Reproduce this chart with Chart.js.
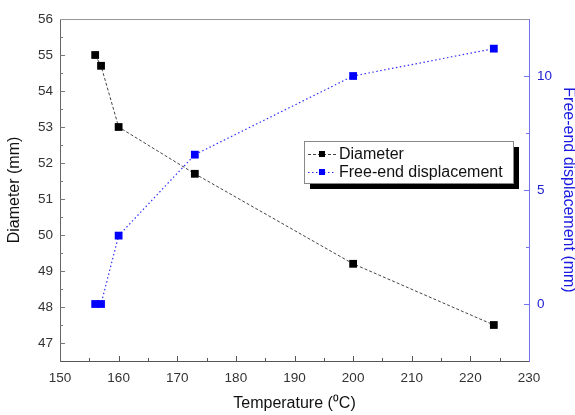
<!DOCTYPE html>
<html>
<head>
<meta charset="utf-8">
<script src="https://cdn.jsdelivr.net/npm/chart.js@4/dist/chart.umd.min.js"></script>
<style>
  html, body { margin: 0; padding: 0; background: #fff; }
  #chart { display: block; }
</style>
</head>
<body>
<canvas id="chart" width="575" height="415"></canvas>
<script>
// ── Data ──────────────────────────────────────────────
const temperature = [156, 157, 160, 173, 200, 224];
const diameter = [55.0, 54.7, 53.0, 51.7, 49.2, 47.5];
const displacement = [0.0, 0.0, 3.0, 6.55, 10.0, 11.2];

const xTicks = [150, 160, 170, 180, 190, 200, 210, 220, 230];
const diameterTicks = [47, 48, 49, 50, 51, 52, 53, 54, 55, 56];
const displacementTicks = [0, 5, 10];

const FONT = 'Liberation Sans, Arial, sans-serif';
const BLUE = '#0000ff';
const AXIS_BLUE = '#7373f0';

const toPoints = ys => temperature.map((t, i) => ({ x: t, y: ys[i] }));

// ── Inward tick marks, top frame line ─────────────────
const frame = {
    id: 'frame',
    afterDraw(chart) {
        const { ctx, chartArea: a, scales } = chart;
        ctx.save();
        ctx.lineWidth = 1;

        // top line
        ctx.strokeStyle = '#999';
        ctx.beginPath();
        ctx.moveTo(a.left, a.top + 0.5);
        ctx.lineTo(a.right, a.top + 0.5);
        ctx.stroke();

        function marks(scale, values, half, color, side) {
            ctx.strokeStyle = color;
            const all = [];
            values.forEach(v => all.push([v, 5]));
            values.forEach(v => {
                [v - half, v + half].forEach(m => {
                    if (m > scale.min && m < scale.max && !all.some(e => Math.abs(e[0] - m) < 1e-6)) all.push([m, 3]);
                });
            });
            all.forEach(([v, len]) => {
                if (v <= scale.min || v >= scale.max) return;
                const p = Math.round(scale.getPixelForValue(v)) + 0.5;
                ctx.beginPath();
                if (side === 'bottom') { ctx.moveTo(p, a.bottom); ctx.lineTo(p, a.bottom - len); }
                if (side === 'left') { ctx.moveTo(a.left, p); ctx.lineTo(a.left + len, p); }
                if (side === 'right') { ctx.moveTo(a.right, p); ctx.lineTo(a.right - len, p); }
                ctx.stroke();
            });
        }
        marks(scales.x, xTicks, 5, '#555', 'bottom');
        marks(scales.y, diameterTicks, 0.5, '#777', 'left');
        marks(scales.y1, displacementTicks, 2.5, AXIS_BLUE, 'right');
        ctx.restore();
    }
};

// ── Legend box with shadow ────────────────────────────
const boxLegend = {
    id: 'boxLegend',
    afterDraw(chart) {
        const { ctx } = chart;
        const x = 304, y = 141, w = 209, h = 42;
        ctx.save();
        ctx.fillStyle = '#000';
        ctx.fillRect(x + 6, y + 6, w, h);
        ctx.fillStyle = '#fff';
        ctx.fillRect(x, y, w, h);
        ctx.strokeStyle = '#888';
        ctx.lineWidth = 1;
        ctx.strokeRect(x + 0.5, y + 0.5, w, h);

        chart.data.datasets.forEach((ds, i) => {
            const cy = y + 13 + i * 18;
            ctx.strokeStyle = ds.borderColor;
            ctx.setLineDash(ds.borderDash);
            ctx.beginPath();
            ctx.moveTo(x + 4, cy + 0.5);
            ctx.lineTo(x + 32, cy + 0.5);
            ctx.stroke();
            ctx.setLineDash([]);
            ctx.fillStyle = ds.pointBackgroundColor;
            ctx.fillRect(x + 15, cy - 3, 6, 6);
            ctx.fillStyle = '#111';
            ctx.font = '16px ' + FONT;
            ctx.textBaseline = 'middle';
            ctx.fillText(ds.label, x + 35, cy + 1);
        });
        ctx.restore();
    }
};

new Chart(document.getElementById('chart'), {
    type: 'line',
    data: {
        datasets: [
            {
                label: 'Diameter',
                data: toPoints(diameter),
                yAxisID: 'y',
                borderColor: '#444',
                borderWidth: 1,
                borderDash: [3, 2],
                pointStyle: 'rect',
                pointRadius: 5.5,
                pointBackgroundColor: '#000',
                pointBorderColor: '#000',
                pointBorderWidth: 0
            },
            {
                label: 'Free-end displacement',
                data: toPoints(displacement),
                yAxisID: 'y1',
                borderColor: '#3030ff',
                borderWidth: 1.2,
                borderDash: [1.5, 2.5],
                pointStyle: 'rect',
                pointRadius: 5.5,
                pointBackgroundColor: BLUE,
                pointBorderColor: BLUE,
                pointBorderWidth: 0
            }
        ]
    },
    options: {
        responsive: false,
        devicePixelRatio: 1,
        animation: false,
        layout: { padding: { top: 19, left: 0, right: 0, bottom: 0 } },
        plugins: { legend: { display: false }, tooltip: { enabled: false } },
        scales: {
            x: {
                type: 'linear',
                min: 150, max: 230,
                afterBuildTicks: s => { s.ticks = xTicks.map(v => ({ value: v })); },
                afterFit: s => { s.height = 54; },
                grid: { display: false, drawTicks: false },
                border: { display: true, color: '#555', width: 1 },
                ticks: { color: '#333', font: { family: FONT, size: 13.5 }, padding: 9, maxRotation: 0 },
                title: { display: true, text: 'Temperature (⁰C)', color: '#111', font: { family: FONT, size: 16 }, padding: { top: 0, bottom: 2 } }
            },
            y: {
                position: 'left',
                min: 46.5, max: 56,
                afterBuildTicks: s => { s.ticks = diameterTicks.map(v => ({ value: v })); },
                afterFit: s => { s.width = 60; },
                grid: { display: false, drawTicks: false },
                border: { display: true, color: '#666', width: 1 },
                ticks: { color: '#333', font: { family: FONT, size: 13.5 }, padding: 7 },
                title: { display: true, text: 'Diameter (mm)', color: '#111', font: { family: FONT, size: 16 }, padding: { top: 5, bottom: 0 } }
            },
            y1: {
                position: 'right',
                min: -2.5, max: 12.5,
                afterBuildTicks: s => { s.ticks = displacementTicks.map(v => ({ value: v })); },
                afterFit: s => { s.width = 46; },
                grid: { display: false, drawTicks: false },
                border: { display: true, color: AXIS_BLUE, width: 1 },
                ticks: { color: '#2020d0', font: { family: FONT, size: 13.5 }, padding: 8 },
                title: { display: true, text: 'Free-end displacement (mm)', color: '#1a1ae0', font: { family: FONT, size: 16 }, padding: { top: -3, bottom: 0 } }
            }
        }
    },
    plugins: [frame, boxLegend]
});
</script>
</body>
</html>
